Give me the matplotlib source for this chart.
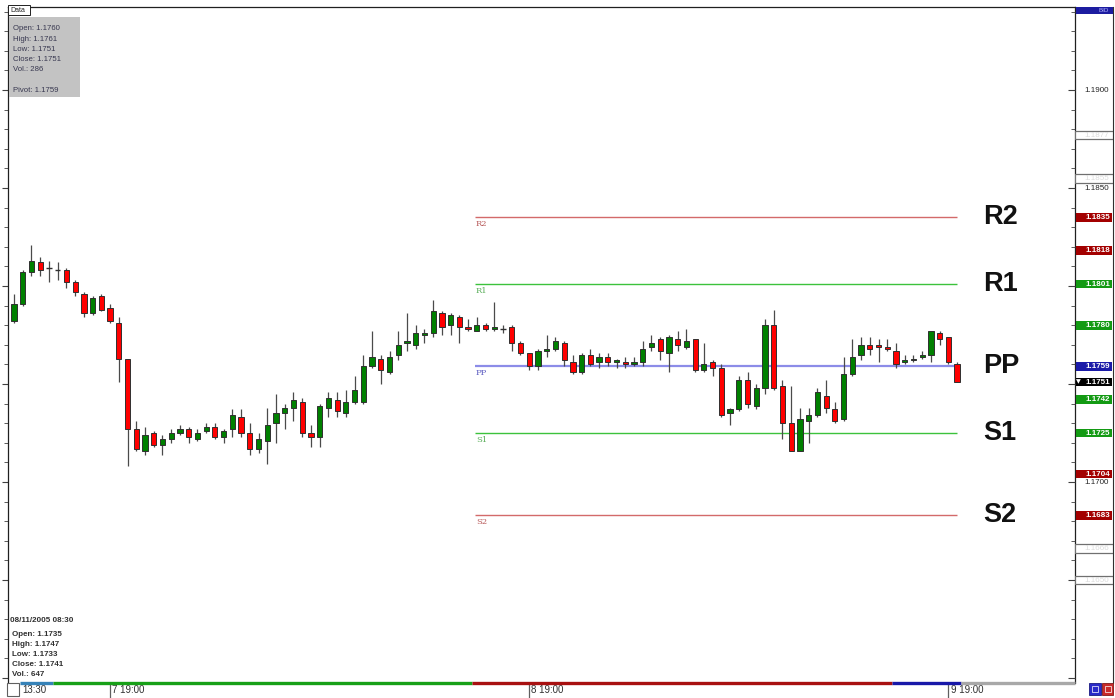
import numpy as np
import matplotlib
matplotlib.use("Agg")
import matplotlib.pyplot as plt
import matplotlib.transforms as mtransforms
from matplotlib.patches import Rectangle
from matplotlib.ticker import MultipleLocator

plt.rcParams['font.family'] = ['Liberation Sans', 'DejaVu Sans']

# 30 minute EUR/USD candles
opens = [1.1782, 1.1791, 1.1807, 1.1812, 1.1809, 1.1808, 1.1808, 1.1802, 1.1796, 1.1786,
         1.1795, 1.1789, 1.1781, 1.1763, 1.1727, 1.1716, 1.1725, 1.1719, 1.1722, 1.1725,
         1.1727, 1.1722, 1.1726, 1.1728, 1.1723, 1.1727, 1.1733, 1.1725, 1.1717, 1.1721,
         1.1730, 1.1735, 1.1738, 1.1741, 1.1725, 1.1723, 1.1738, 1.1742, 1.1735, 1.1741,
         1.1741, 1.1759, 1.1763, 1.1756, 1.1765, 1.1771, 1.1770, 1.1775, 1.1776, 1.1786,
         1.1780, 1.1784, 1.1779, 1.1777, 1.1780, 1.1778, 1.1778, 1.1779, 1.1771, 1.1766,
         1.1759, 1.1767, 1.1768, 1.1771, 1.1761, 1.1756, 1.1765, 1.1761, 1.1764, 1.1761,
         1.1761, 1.1760, 1.1761, 1.1769, 1.1773, 1.1766, 1.1773, 1.1769, 1.1773, 1.1757,
         1.1761, 1.1758, 1.1735, 1.1737, 1.1752, 1.1739, 1.1748, 1.1780, 1.1749, 1.1730,
         1.1716, 1.1731, 1.1734, 1.1744, 1.1737, 1.1732, 1.1755, 1.1765, 1.1770, 1.1770,
         1.1769, 1.1767, 1.1761, 1.1762, 1.1764, 1.1765, 1.1776, 1.1774, 1.1760]
highs = [1.1796, 1.1808, 1.1821, 1.1815, 1.1813, 1.1812, 1.1809, 1.1803, 1.1797, 1.1795,
         1.1796, 1.1791, 1.1784, 1.1763, 1.1731, 1.1728, 1.1726, 1.1724, 1.1727, 1.1729,
         1.1728, 1.1727, 1.1730, 1.1730, 1.1727, 1.1737, 1.1737, 1.1730, 1.1725, 1.1738,
         1.1745, 1.1740, 1.1746, 1.1743, 1.1729, 1.1740, 1.1746, 1.1746, 1.1747, 1.1754,
         1.1765, 1.1777, 1.1765, 1.1767, 1.1777, 1.1786, 1.1780, 1.1778, 1.1793, 1.1787,
         1.1786, 1.1785, 1.1783, 1.1784, 1.1781, 1.1792, 1.1780, 1.1780, 1.1772, 1.1766,
         1.1768, 1.1775, 1.1774, 1.1772, 1.1765, 1.1766, 1.1768, 1.1766, 1.1766, 1.1763,
         1.1764, 1.1764, 1.1772, 1.1775, 1.1774, 1.1775, 1.1777, 1.1778, 1.1773, 1.1771,
         1.1762, 1.1760, 1.1738, 1.1754, 1.1756, 1.1750, 1.1783, 1.1788, 1.1752, 1.1749,
         1.1738, 1.1738, 1.1748, 1.1752, 1.1741, 1.1764, 1.1773, 1.1774, 1.1774, 1.1773,
         1.1773, 1.1771, 1.1765, 1.1765, 1.1767, 1.1777, 1.1777, 1.1774, 1.1761]
lows = [1.1781, 1.1790, 1.1805, 1.1805, 1.1802, 1.1803, 1.1799, 1.1795, 1.1784, 1.1785,
        1.1787, 1.1781, 1.1751, 1.1708, 1.1716, 1.1714, 1.1718, 1.1714, 1.1720, 1.1724,
        1.1720, 1.1721, 1.1725, 1.1722, 1.1720, 1.1723, 1.1723, 1.1714, 1.1715, 1.1709,
        1.1720, 1.1727, 1.1731, 1.1723, 1.1718, 1.1718, 1.1733, 1.1733, 1.1733, 1.1740,
        1.1740, 1.1758, 1.1750, 1.1755, 1.1762, 1.1767, 1.1768, 1.1771, 1.1774, 1.1775,
        1.1775, 1.1771, 1.1777, 1.1777, 1.1777, 1.1777, 1.1776, 1.1767, 1.1765, 1.1757,
        1.1757, 1.1764, 1.1767, 1.1759, 1.1755, 1.1755, 1.1759, 1.1758, 1.1759, 1.1758,
        1.1758, 1.1759, 1.1759, 1.1767, 1.1762, 1.1756, 1.1767, 1.1768, 1.1756, 1.1756,
        1.1754, 1.1733, 1.1729, 1.1736, 1.1738, 1.1737, 1.1745, 1.1747, 1.1722, 1.1716,
        1.1716, 1.1720, 1.1733, 1.1735, 1.1730, 1.1731, 1.1754, 1.1762, 1.1765, 1.1761,
        1.1767, 1.1758, 1.1760, 1.1761, 1.1763, 1.1761, 1.1770, 1.1760, 1.1751]
closes = [1.1791, 1.1807, 1.1813, 1.1808, 1.1809, 1.1808, 1.1802, 1.1797, 1.1786, 1.1794,
          1.1788, 1.1782, 1.1763, 1.1727, 1.1717, 1.1724, 1.1719, 1.1722, 1.1725, 1.1727,
          1.1723, 1.1725, 1.1728, 1.1723, 1.1726, 1.1734, 1.1725, 1.1717, 1.1722, 1.1729,
          1.1735, 1.1738, 1.1742, 1.1725, 1.1723, 1.1739, 1.1743, 1.1736, 1.1741, 1.1747,
          1.1759, 1.1764, 1.1757, 1.1764, 1.1770, 1.1772, 1.1776, 1.1776, 1.1787, 1.1779,
          1.1785, 1.1779, 1.1778, 1.1780, 1.1778, 1.1779, 1.1778, 1.1771, 1.1766, 1.1759,
          1.1767, 1.1768, 1.1772, 1.1762, 1.1756, 1.1765, 1.1760, 1.1764, 1.1761, 1.1762,
          1.1760, 1.1761, 1.1768, 1.1771, 1.1767, 1.1774, 1.1770, 1.1772, 1.1757, 1.1760,
          1.1758, 1.1734, 1.1737, 1.1752, 1.1740, 1.1748, 1.1780, 1.1748, 1.1730, 1.1716,
          1.1732, 1.1734, 1.1746, 1.1738, 1.1731, 1.1755, 1.1764, 1.1770, 1.1768, 1.1769,
          1.1768, 1.1760, 1.1762, 1.1763, 1.1765, 1.1777, 1.1773, 1.1761, 1.1751]

# pivot levels for the last session
pivot_names = ["R2", "R1", "PP", "S1", "S2"]
pivot_values = [1.1835, 1.1801, 1.1759, 1.1725, 1.1683]

# price tags on the right scale
tag_values = [1.1835, 1.1818, 1.1801, 1.1780, 1.1759, 1.1751, 1.1742, 1.1725, 1.1704, 1.1683]
tag_marks = ["", "", "", "", "", "\u25BC", "", "", "", ""]
empty_tag_values = [1.1877, 1.1855, 1.1666, 1.1650]
scale_labels = [1.1900, 1.1850, 1.1700]

# time axis
time_labels = ["13:30", "7 19:00", "8 19:00", "9 19:00"]
time_index = [0, 11, 59, 107]
session_edges = [0.7, 4.5, 52.5, 100.5, 108.5, 121.5]

top_info = ["Open: 1.1760", "High: 1.1761", "Low: 1.1751", "Close: 1.1751", "Vol.: 286", "", "Pivot: 1.1759"]
bottom_info_date = "08/11/2005 08:30"
bottom_info = ["Open: 1.1735", "High: 1.1747", "Low: 1.1733", "Close: 1.1741", "Vol.: 647"]

W, H = 1115, 698
fig = plt.figure(figsize=(W / 100, H / 100), dpi=100)
fig.patch.set_facecolor('white')

ymin, ymax = 1.159745, 1.194235
ax = fig.add_axes([8 / W, 1 - 683 / H, (1075 - 8) / W, 676 / H])
ax.set_xlim(-0.69, 121.5)
ax.set_ylim(ymin, ymax)

o = np.array(opens); h = np.array(highs); l = np.array(lows); c = np.array(closes)
x = np.arange(len(o))
up = c > o
down = c < o
flat = c == o

ax.vlines(x, l, h, color='#4a4a4a', lw=0.9, zorder=2)
ax.bar(x[up], (c - o)[up], bottom=o[up], width=0.6, color='#008000',
       edgecolor='#303030', lw=0.7, zorder=3)
ax.bar(x[down], (o - c)[down], bottom=c[down], width=0.6, color='#ff0000',
       edgecolor='#303030', lw=0.7, zorder=3)
ax.hlines(o[flat], x[flat] - 0.3, x[flat] + 0.3, color='#303030', lw=1.0, zorder=3)

# pivot lines
line_cols = ['#d36a6a', '#3cc23c', '#8c8ce8', '#3cc23c', '#d36a6a']
text_cols = ['#b85a5a', '#5aae5a', '#5a5ac0', '#5aae5a', '#b85a5a']
for name, val, lc, tc in zip(pivot_names, pivot_values, line_cols, text_cols):
    ax.hlines(val, 52.8, 108.0, color=lc, lw=1.6 if name == "PP" else 1.0, zorder=1)
    ax.text(52.9, val - 0.00036, name, fontsize=6, color=tc, family='DejaVu Serif',
            va='center', ha='left')
    ax.text(111.0, val, name, fontsize=19.5, fontweight='bold', color='#111111',
            va='center', ha='left')

# axes frame and ticks
for s in ['left', 'top', 'right']:
    ax.spines[s].set_color('#202020')
    ax.spines[s].set_linewidth(0.9)
ax.spines['bottom'].set_visible(False)
ax.yaxis.set_major_locator(MultipleLocator(0.005))
ax.yaxis.set_minor_locator(MultipleLocator(0.001))
ax.tick_params(axis='y', which='major', left=True, right=False, direction='out',
               length=4, color='#404040', labelleft=False)
ax.tick_params(axis='y', which='minor', left=True, right=False, direction='out',
               length=3, color='#404040')
ax.set_xticks([time_index[1], time_index[2], time_index[3]])
ax.set_xticklabels([])
ax.tick_params(axis='x', direction='out', length=14, color='#606060', width=0.9)

trans = mtransforms.blended_transform_factory(ax.transData, ax.transAxes)
seg_cols = ['#3582b8', '#17a017', '#a81010', '#1818a8', '#a8a8a8']
for i, col in enumerate(seg_cols):
    ax.plot([session_edges[i], session_edges[i + 1]], [0, 0], color=col, lw=2.4,
            transform=trans, clip_on=False, solid_capstyle='butt', zorder=5)
for lab, ti in zip(time_labels, time_index):
    xpos = 0.95 if ti == 0 else ti + 0.25
    ax.text(xpos, -0.0105, lab, transform=trans, fontsize=7, color='#303030',
            ha='left', va='center')

# right price scale
axr = fig.add_axes([1075 / W, 1 - 683 / H, (1113 - 1075) / W, 676 / H])
axr.set_ylim(ymin, ymax)
axr.set_xlim(0, 1)
axr.set_xticks([])
axr.yaxis.set_major_locator(MultipleLocator(0.005))
axr.yaxis.set_minor_locator(MultipleLocator(0.001))
axr.tick_params(axis='y', which='major', direction='out', length=5, color='#404040', labelleft=False)
axr.tick_params(axis='y', which='minor', direction='out', length=3, color='#404040')
axr.spines['bottom'].set_visible(False)
axr.spines['top'].set_visible(False)
axr.spines['left'].set_visible(False)
axr.spines['right'].set_color('#303030')
axr.patch.set_alpha(0)

for v in scale_labels:
    axr.text(0.58, v, f"{v:.4f}", fontsize=5.8, color='#222222', ha='center', va='center', zorder=1)

tag_cols = ['#a30000', '#a30000', '#139a13', '#139a13', '#1a1aa8', '#000000',
            '#139a13', '#139a13', '#a30000', '#a30000']
bh = 0.00044
for v, mark, col in zip(tag_values, tag_marks, tag_cols):
    axr.add_patch(Rectangle((0.02, v - bh / 2), 0.96, bh, facecolor=col, edgecolor='none', zorder=3))
    axr.text(0.6, v, f"{v:.4f}", fontsize=5.8, color='white', fontweight='bold',
             ha='center', va='center', zorder=4)
    if mark:
        axr.text(0.1, v, mark, fontsize=4.5, color='white', family='DejaVu Sans',
                 ha='center', va='center', zorder=4)
for v in empty_tag_values:
    axr.add_patch(Rectangle((0.0, v - bh / 2), 1.0, bh, facecolor='white',
                            edgecolor='#707070', lw=0.9, zorder=3))
    axr.text(0.58, v, f"{v:.4f}", fontsize=5.8, color='#dcdcdc', ha='center', va='center', zorder=4)

# BID tab
axr.add_patch(Rectangle((0.02, 1 - 7 / 676), 0.98, 7 / 676, transform=axr.transAxes,
                        facecolor='#1c1ca0', edgecolor='none', zorder=3, clip_on=False))
axr.text(0.9, 1 - 3.5 / 676, "BID", transform=axr.transAxes, fontsize=4.5,
         color='#b0b0ff', ha='right', va='center', zorder=4)

# top left data window
fig.add_artist(Rectangle((9 / W, 1 - 97 / H), 71 / W, 80 / H, transform=fig.transFigure,
                         facecolor='#c3c3c3', edgecolor='none'))
fig.add_artist(Rectangle((8 / W, 1 - 15 / H), 22 / W, 10 / H, transform=fig.transFigure,
                         facecolor='white', edgecolor='#202020', lw=0.7))
fig.text(10 / W, 1 - 10 / H, "Data", fontsize=5, color='#202020', va='center', ha='left')
for k, line in enumerate(top_info):
    fig.text(13 / W, 1 - (29 + 10.2 * k) / H, line, fontsize=5.6, color='#383850',
             va='center', ha='left')

# bottom left info
fig.text(10 / W, 1 - 621 / H, bottom_info_date, fontsize=5.8, color='#303030',
         fontweight='bold', va='center', ha='left')
for k, line in enumerate(bottom_info):
    fig.text(12 / W, 1 - (634 + 10.2 * k) / H, line, fontsize=5.8, color='#303030',
             fontweight='bold', va='center', ha='left')

# small corner widgets
fig.add_artist(Rectangle((7 / W, 1 - 696 / H), 12 / W, 13 / H, transform=fig.transFigure,
                         facecolor='white', edgecolor='#606060', lw=0.8))
fig.add_artist(Rectangle((1089 / W, 1 - 695 / H), 12 / W, 12 / H, transform=fig.transFigure,
                         facecolor='#2a2ac8', edgecolor='#1a1a80', lw=0.6))
fig.add_artist(Rectangle((1102 / W, 1 - 695 / H), 11 / W, 12 / H, transform=fig.transFigure,
                         facecolor='#c82a2a', edgecolor='#801a1a', lw=0.6))
fig.add_artist(Rectangle((1092 / W, 1 - 692 / H), 6 / W, 6 / H, transform=fig.transFigure,
                         facecolor='none', edgecolor='white', lw=0.5))
fig.add_artist(Rectangle((1104.5 / W, 1 - 692 / H), 6 / W, 6 / H, transform=fig.transFigure,
                         facecolor='none', edgecolor='white', lw=0.5))

fig.savefig("out.png", dpi=100, facecolor='white')
